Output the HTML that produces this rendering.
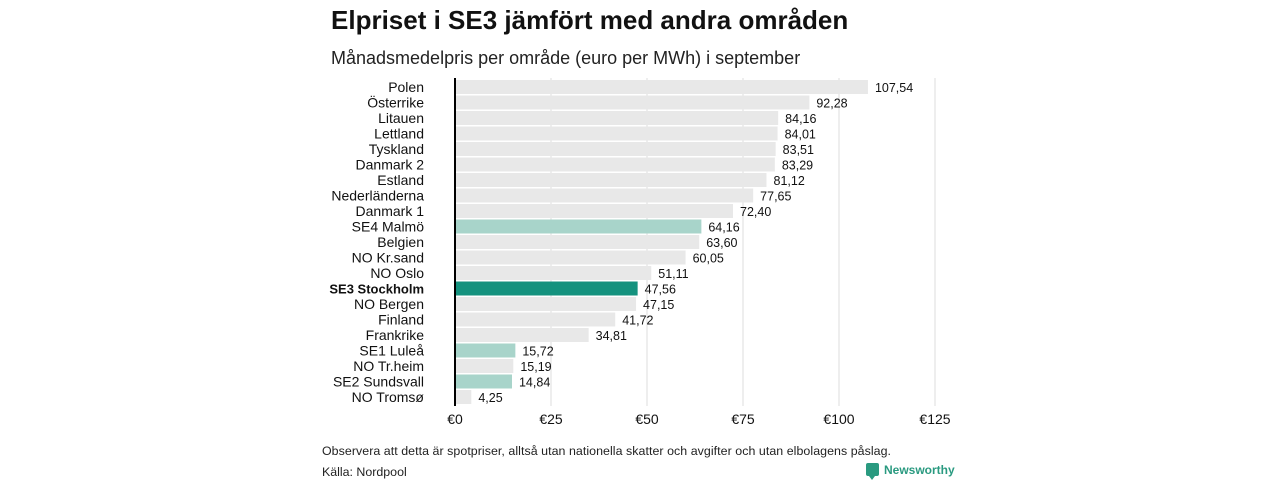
<!DOCTYPE html>
<html><head><meta charset="utf-8"><style>
body{margin:0;background:#fff;width:1280px;height:480px;overflow:hidden;font-family:"Liberation Sans",sans-serif}
</style></head><body>
<svg id="chart" width="1280" height="480" xmlns="http://www.w3.org/2000/svg" font-family="Liberation Sans, sans-serif">
<text x="331" y="29" font-size="26" font-weight="bold" fill="#111">Elpriset i SE3 jämfört med andra områden</text>
<text x="331" y="64" font-size="18" fill="#222">Månadsmedelpris per område (euro per MWh) i september</text>
<g id="grid"></g><g id="bars"></g><g id="labels"></g><g id="xticks"></g>
<line x1="455" y1="78" x2="455" y2="406" stroke="#000" stroke-width="2"/>
<text x="322" y="455" font-size="12.4" fill="#222" textLength="569">Observera att detta är spotpriser, alltså utan nationella skatter och avgifter och utan elbolagens påslag.</text>
<text x="322" y="476" font-size="12.4" fill="#222">Källa: Nordpool</text>
<g>
<rect x="866" y="463" width="13" height="13" rx="2" fill="#2a9a80"/>
<path d="M869,476 L872,480 L875,476 Z" fill="#2a9a80"/>
<text x="884" y="474" font-size="12" font-weight="bold" fill="#2a9a80">Newsworthy</text>
</g>
</svg>
<script>
const categories=["Polen","Österrike","Litauen","Lettland","Tyskland","Danmark  2","Estland","Nederländerna","Danmark  1","SE4  Malmö","Belgien","NO Kr.sand","NO Oslo","SE3 Stockholm","NO Bergen","Finland","Frankrike","SE1  Luleå","NO Tr.heim","SE2  Sundsvall","NO Tromsø"];
const values=[107.54,92.28,84.16,84.01,83.51,83.29,81.12,77.65,72.40,64.16,63.60,60.05,51.11,47.56,47.15,41.72,34.81,15.72,15.19,14.84,4.25];
const kinds=["o","o","o","o","o","o","o","o","o","se","o","o","o","main","o","o","o","se","o","se","o"];
const ticks=[0,25,50,75,100,125];
const NS="http://www.w3.org/2000/svg";
const x=v=>455+v*3.84;
const y=i=>80+i*15.5;
function mk(t,a,p){const e=document.createElementNS(NS,t);for(const k in a)e.setAttribute(k,a[k]);p.appendChild(e);return e;}
const g=document.getElementById('grid'),b=document.getElementById('bars'),l=document.getElementById('labels'),xt=document.getElementById('xticks');
ticks.forEach(t=>{
 if(t>0){const ln=mk('line',{x1:x(t),x2:x(t),y1:78,y2:406,stroke:'#dcdcdc','stroke-width':1},g);
 
 }
 const tx=mk('text',{x:x(t),y:424,'font-size':14,'text-anchor':'middle',fill:'#111'},xt);
 tx.textContent='€'+t;
 
 
});
categories.forEach((c,i)=>{
 const k=kinds[i];
 const fill=k==='main'?'#14927e':k==='se'?'#a8d4ca':'#e8e8e8';
 const r=mk('rect',{x:455,y:y(i),width:Math.max(0,x(values[i])-455),height:14,fill:fill},b);
 
 
 const lb=mk('text',{x:424,y:y(i)+12,'font-size':k==='main'?13:14,'text-anchor':'end',fill:'#111','font-weight':k==='main'?'bold':'normal'},l);
 lb.textContent=c;
 
 
 const vl=mk('text',{x:x(values[i])+7,y:y(i)+12,'font-size':12.5,fill:'#111'},l);
 vl.textContent=values[i].toFixed(2).replace('.',',');
 
 
});
</script>
</body></html>
